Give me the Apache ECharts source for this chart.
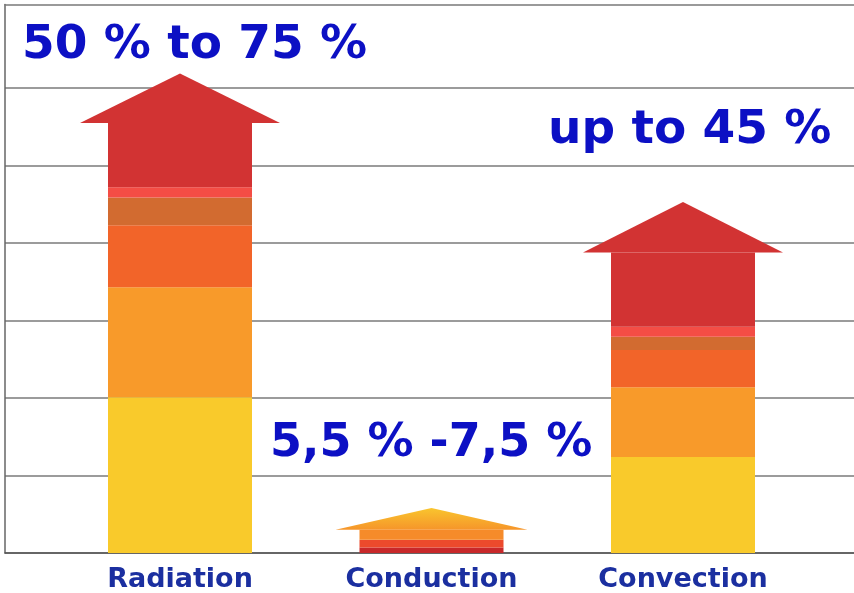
<!DOCTYPE html>
<html>
<head>
<meta charset="utf-8">
<script src="https://cdn.jsdelivr.net/npm/echarts@6/dist/echarts.min.js"></script>
<style>html,body{margin:0;padding:0;background:#fff}#c{width:854px;height:593px}</style>
</head>
<body>
<div id="c"></div>
<script>
// ---- data ----
var categories = ['Radiation', 'Conduction', 'Convection'];
// stacked colour bands of each arrow shaft, bottom to top
var band1 = [20.1, 0.7, 12.4];
var band2 = [14.2, 1.0, 9.0];
var band3 = [8.0, 1.3, 4.8];
var band4 = [3.6, 0, 1.7];
var band5 = [1.3, 0, 1.3];
var band6 = [8.3, 0, 9.6];
// arrow tip heights
var arrowTip = [61.9, 5.8, 45.3];
// range labels
var rangeLabels = ['50 % to 75 %', '5,5 % -7,5 %', 'up to 45 %'];
// axis ranges
var yMax = 70.8;
var gridMax = 60;

// ---- styles ----
var bandColors = ['#F9CA2B', '#F89A2A', '#F26429', '#D26B30', '#F44D45', '#D23333'];
var conductionColors = ['#C8282A', '#EC4A2C', '#F68B2A'];
var bands = [band1, band2, band3, band4, band5, band6];
var blue = '#0c10c4';
var font = 'DejaVu Sans';

var series = bands.map(function (b, i) {
  return {
    type: 'bar', stack: 'arrow', barWidth: 144, xAxisIndex: 0, yAxisIndex: 0,
    itemStyle: { color: bandColors[i] },
    data: b.map(function (v, j) {
      if (j === 1 && i < 3) return { value: v, itemStyle: { color: conductionColors[i] } };
      return v;
    }),
    silent: true
  };
});

var headData = categories.map(function (c, j) {
  var base = 0;
  bands.forEach(function (b) { base += b[j]; });
  return [j, base, arrowTip[j]];
});

series.push({
  type: 'custom', xAxisIndex: 0, yAxisIndex: 0, silent: true,
  data: headData,
  renderItem: function (params, api) {
    var j = api.value(0);
    var b = api.coord([j, api.value(1)]);
    var t = api.coord([j, api.value(2)]);
    var half = j === 1 ? 96 : 100;
    var fill = j === 1
      ? new echarts.graphic.LinearGradient(0, 0, 0, 1, [{ offset: 0, color: '#F9C52E' }, { offset: 1, color: '#F6952A' }])
      : '#D23333';
    return {
      type: 'polygon',
      shape: { points: [[b[0] - half, b[1]], [t[0], t[1]], [b[0] + half, b[1]]] },
      style: { fill: fill }
    };
  }
});

var hidden = { axisLine: { show: false }, axisTick: { show: false }, axisLabel: { show: false }, splitLine: { show: false } };
function ext(a, b) { var o = {}; for (var k in a) o[k] = a[k]; for (var k2 in b) o[k2] = b[k2]; return o; }

var option = {
  animation: false,
  backgroundColor: '#fff',
  grid: [
    { left: 54.25, right: 45.25, top: 4.5, bottom: 40 },
    { left: 5, right: 0, top: 4.5, bottom: 40 },
    { left: 5, right: 0, top: 553 - gridMax * (548.5 / yMax), bottom: 40 }
  ],
  xAxis: [
    {
      type: 'category', data: categories, gridIndex: 0,
      axisLine: { show: false }, axisTick: { show: false },
      axisLabel: { color: '#1b2fa0', fontFamily: font, fontWeight: 'bold', fontSize: 27, margin: 13 }
    },
    ext(hidden, { type: 'value', gridIndex: 1, min: 0, max: 1, position: 'bottom',
      axisLine: { show: true, lineStyle: { color: '#555', width: 1.5 } } }),
    ext(hidden, { type: 'value', gridIndex: 1, min: 0, max: 1, position: 'top',
      axisLine: { show: true, lineStyle: { color: '#7a7a7a', width: 1.5 } } }),
    ext(hidden, { type: 'value', gridIndex: 2, min: 0, max: 1 })
  ],
  yAxis: [
    ext(hidden, { type: 'value', gridIndex: 0, min: 0, max: yMax }),
    ext(hidden, { type: 'value', gridIndex: 1, min: 0, max: yMax,
      axisLine: { show: true, lineStyle: { color: '#666', width: 1.5 } } }),
    ext(hidden, { type: 'value', gridIndex: 2, min: 0, max: gridMax, interval: 10,
      splitLine: { show: true, lineStyle: { color: '#7a7a7a', width: 1.5 } } })
  ],
  graphic: [
    { type: 'text', left: 22, top: 22, style: { text: rangeLabels[0], fill: blue, font: 'bold 47px "DejaVu Sans"' } },
    { type: 'text', left: 270, top: 421, style: { text: rangeLabels[1], fill: blue, font: 'bold 46px "DejaVu Sans"' } },
    { type: 'text', left: 548, top: 107, style: { text: rangeLabels[2], fill: blue, font: 'bold 47px "DejaVu Sans"' } }
  ],
  series: series
};

var chart = echarts.init(document.getElementById('c'), null, { renderer: 'canvas' });
chart.setOption(option);
</script>
</body>
</html>
